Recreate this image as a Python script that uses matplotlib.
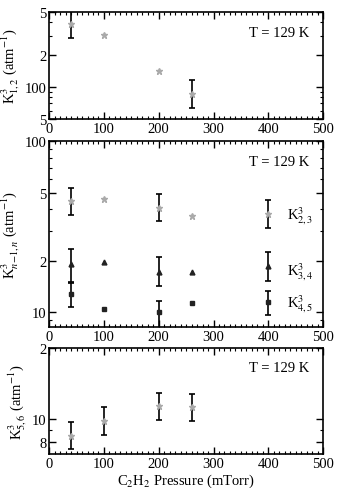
import numpy as np
import matplotlib
matplotlib.use('Agg')
import matplotlib.pyplot as plt
from matplotlib.ticker import FixedLocator, FixedFormatter, MultipleLocator, LogLocator, NullFormatter

plt.rcParams['font.family'] = ['Liberation Serif', 'DejaVu Serif']
plt.rcParams['mathtext.fontset'] = 'stix'

# top panel K^3_{1,2}
p12 = [40, 100, 200, 260]
k12 = [386, 305, 141, 86]
k12_lo = [286, None, None, 63]
k12_hi = [520, None, None, 116]

# middle panel
p_mid = [40, 100, 200, 260, 400]
k23 = [44.8, 46.3, 40.6, 36.8, 37.6]
k23_lo = [37.1, None, 34.0, None, 31.2]
k23_hi = [53.6, None, 49.0, None, 45.2]
k34 = [19.1, 19.6, 17.3, 17.3, 18.6]
k34_lo = [15.1, None, 14.3, None, 15.3]
k34_hi = [23.4, None, 21.1, None, 22.6]
k45 = [12.8, 10.5, 10.1, 11.4, 11.5]
k45_lo = [10.8, None, 7.5, None, 9.7]
k45_hi = [14.9, None, 11.7, None, 13.4]

# bottom panel K^3_{5,6}
p56 = [40, 100, 200, 260]
k56 = [8.5, 9.84, 11.3, 11.2]
k56_lo = [7.46, 8.55, 9.9, 9.8]
k56_hi = [9.7, 11.2, 12.9, 12.8]


def draw(ax, x, y, lo, hi, marker, color, ms):
    for xi, yi, l, h in zip(x, y, lo, hi):
        if l is not None:
            ax.errorbar([xi], [yi], yerr=[[yi - l], [h - yi]], fmt='none',
                        ecolor='black', elinewidth=1.2, capsize=2.5, capthick=1.2, zorder=2)
    ax.plot(x, y, linestyle='none', marker=marker, color=color, markersize=ms, zorder=3)


def style(ax, yticks, ylabels, ylim, ty):
    ax.set_xlim(0, 500)
    ax.set_yscale('log')
    ax.set_ylim(*ylim)
    ax.xaxis.set_major_locator(MultipleLocator(100))
    ax.xaxis.set_minor_locator(MultipleLocator(10))
    ax.yaxis.set_major_locator(FixedLocator(yticks))
    ax.yaxis.set_major_formatter(FixedFormatter(ylabels))
    ax.yaxis.set_minor_locator(LogLocator(subs=np.arange(2, 10)))
    ax.yaxis.set_minor_formatter(NullFormatter())
    ax.tick_params(which='both', direction='in', top=True, right=True, labelsize=10.5, pad=2)
    ax.tick_params(which='major', length=5, width=1)
    ax.tick_params(which='minor', length=2.5, width=0.8)
    for s in ax.spines.values():
        s.set_linewidth(1.2)
    ax.text(0.95, ty, 'T = 129 K', transform=ax.transAxes, ha='right', va='center', fontsize=10.5)


fig = plt.figure(figsize=(3.39, 4.89), dpi=100)

ax1 = fig.add_axes([0.145, 0.7546, 0.808, 0.219])
draw(ax1, p12, k12, k12_lo, k12_hi, '*', '#aaaaaa', 4.5)
style(ax1, [50, 100, 200, 500], ['5', '100', '2', '5'], (50, 500), 0.81)
ax1.set_ylabel(r'K$^{3}_{1,2}$ (atm$^{-1}$)', fontsize=10.5, labelpad=2)

ax2 = fig.add_axes([0.145, 0.329, 0.808, 0.380])
draw(ax2, p_mid, k23, k23_lo, k23_hi, '*', '#aaaaaa', 4.5)
draw(ax2, p_mid, k34, k34_lo, k34_hi, '^', '#222222', 3.5)
draw(ax2, p_mid, k45, k45_lo, k45_hi, 's', '#222222', 2.2)
style(ax2, [10, 20, 50, 100], ['10', '2', '5', '100'], (8.2, 100), 0.89)
ax2.set_ylabel(r'K$^{3}_{n\!-\!1,n}$ (atm$^{-1}$)', fontsize=10.5, labelpad=2)
ax2.text(435, 37, r'K$^{3}_{2,3}$', fontsize=10.5, va='center')
ax2.text(435, 17.3, r'K$^{3}_{3,4}$', fontsize=10.5, va='center')
ax2.text(435, 11.3, r'K$^{3}_{4,5}$', fontsize=10.5, va='center')

ax3 = fig.add_axes([0.145, 0.0695, 0.808, 0.217])
draw(ax3, p56, k56, k56_lo, k56_hi, '*', '#aaaaaa', 4.5)
style(ax3, [8, 10, 20], ['8', '10', '2'], (7.1, 20), 0.82)
ax3.set_ylabel(r'K$^{3}_{5,6}$ (atm$^{-1}$)', fontsize=10.5, labelpad=2)
ax3.set_xlabel(r'C$_2$H$_2$ Pressure (mTorr)', fontsize=10.5, labelpad=1)

fig.savefig('out.png', dpi=100)
